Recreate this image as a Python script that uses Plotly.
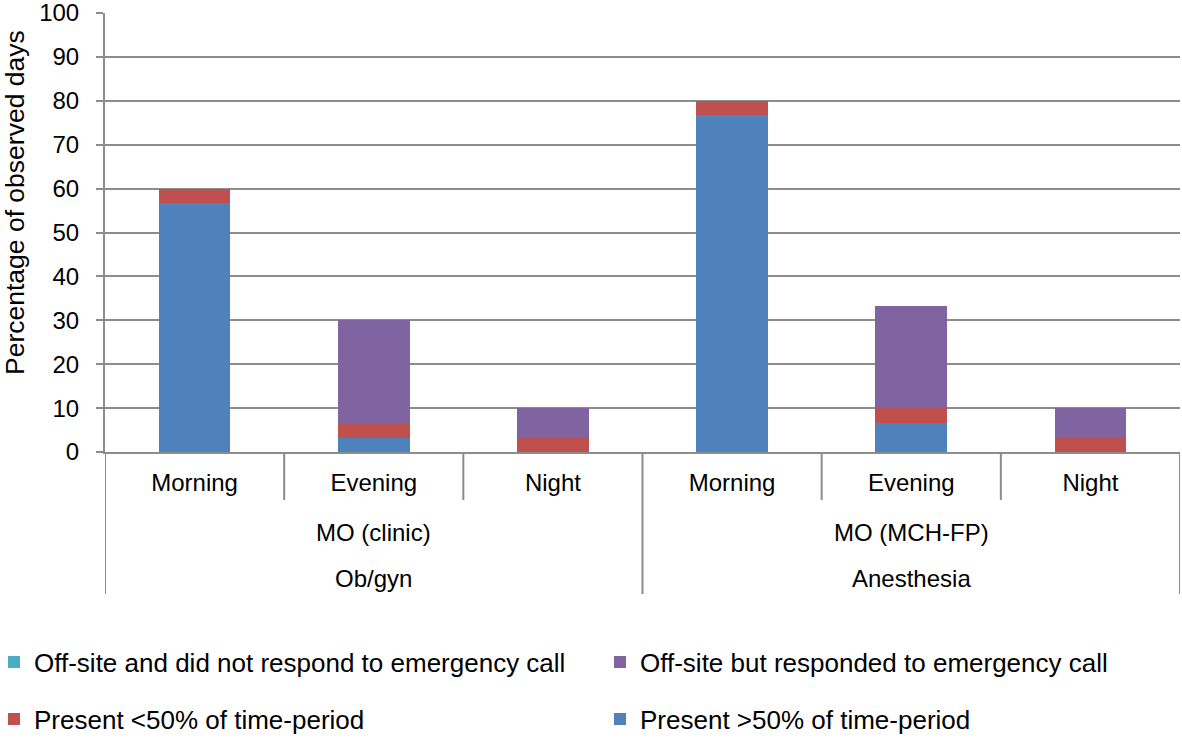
import plotly.graph_objects as go

# ---- data ----
categories = ["Morning", "Evening", "Night", "Morning", "Evening", "Night"]
subgroups = ["MO (clinic)", "MO (MCH-FP)"]
groups = ["Ob/gyn", "Anesthesia"]

present_gt50 = [56.7, 3.3, 0.0, 76.7, 6.7, 0.0]
present_lt50 = [3.3, 3.3, 3.3, 3.3, 3.3, 3.3]
offsite_responded = [0.0, 23.4, 6.7, 0.0, 23.3, 6.7]
offsite_not_responded = [0.0, 0.0, 0.0, 0.0, 0.0, 0.0]

y_ticks = [0, 10, 20, 30, 40, 50, 60, 70, 80, 90, 100]

FONT = "Liberation Sans, Arial, sans-serif"
GRID = "#8c8c8c"

x = list(range(len(categories)))

# plot area geometry (pixels)
W, H = 1182, 738
mt, mb, ml, mr = 13, 286, 105, 2
ph = H - mt - mb
pw = W - ml - mr

def py(pix):
    """pixel y from top -> paper y"""
    return (H - pix - mb) / ph

def px(pix):
    """pixel x from left -> paper x"""
    return (pix - ml) / pw

fig = go.Figure()
fig.add_trace(go.Bar(x=x, y=present_gt50, name="Present >50% of time-period",
                     marker=dict(color="#4F81BD", line=dict(width=0)), legend="legend4"))
fig.add_trace(go.Bar(x=x, y=present_lt50, name="Present <50% of time-period",
                     marker=dict(color="#C0504D", line=dict(width=0)), legend="legend3"))
fig.add_trace(go.Bar(x=x, y=offsite_responded, name="Off-site but responded to emergency call",
                     marker=dict(color="#8064A2", line=dict(width=0)), legend="legend2"))
fig.add_trace(go.Bar(x=x, y=offsite_not_responded, name="Off-site and did not respond to emergency call",
                     marker=dict(color="#4BACC6", line=dict(width=0)), legend="legend"))

shapes = []
for xv in [-0.5, 2.5, 5.5]:
    shapes.append(dict(type="line", xref="x", yref="paper", x0=xv, x1=xv,
                       y0=0, y1=py(594), line=dict(color=GRID, width=2)))
for xv in [0.5, 1.5, 3.5, 4.5]:
    shapes.append(dict(type="line", xref="x", yref="paper", x0=xv, x1=xv,
                       y0=0, y1=py(500), line=dict(color=GRID, width=2)))

annotations = []
for i, sg in enumerate(subgroups):
    annotations.append(dict(x=1 + 3 * i, xref="x", y=py(532), yref="paper", text=sg,
                            showarrow=False, xanchor="center", yanchor="middle",
                            font=dict(size=24, color="black", family=FONT)))
for i, g in enumerate(groups):
    annotations.append(dict(x=1 + 3 * i, xref="x", y=py(578), yref="paper", text=g,
                            showarrow=False, xanchor="center", yanchor="middle",
                            font=dict(size=24, color="black", family=FONT)))
annotations.append(dict(x=px(15), xref="paper", y=py(203), yref="paper",
                        text="Percentage of observed days", textangle=-90, showarrow=False,
                        xanchor="center", yanchor="middle",
                        font=dict(size=26.5, color="black", family=FONT)))

def leg(xpix, ypix):
    return dict(orientation="h", x=px(xpix), xanchor="left", y=py(ypix), yanchor="middle",
                font=dict(size=26, color="black", family=FONT), bgcolor="rgba(0,0,0,0)")

fig.update_layout(
    width=W, height=H,
    margin=dict(t=mt, b=mb, l=ml, r=mr, autoexpand=False),
    barmode="stack", bargap=0.6,
    plot_bgcolor="white", paper_bgcolor="white",
    font=dict(family=FONT, size=24, color="black"),
    shapes=shapes, annotations=annotations,
    showlegend=True,
    xaxis=dict(range=[-0.5, 5.5], tickvals=x, ticktext=categories, showgrid=False,
               zeroline=False, showline=True, linecolor=GRID, linewidth=2,
               ticks="", ticklabelstandoff=8, tickfont=dict(size=24, color="black")),
    yaxis=dict(range=[0, 100], tickvals=y_ticks, showgrid=True, gridcolor=GRID, gridwidth=2,
               zeroline=False, showline=True, linecolor=GRID, linewidth=2,
               ticks="outside", ticklen=7, tickcolor=GRID, tickwidth=2,
               ticklabelstandoff=12, ticklabeloverflow="allow",
               tickfont=dict(size=24, color="black")),
    legend=leg(-6, 662),
    legend2=leg(600, 662),
    legend3=leg(-6, 719),
    legend4=leg(600, 719),
)

fig.write_html("out.html", post_script="document.body.style.margin='0px';",
               config={"displayModeBar": False})
